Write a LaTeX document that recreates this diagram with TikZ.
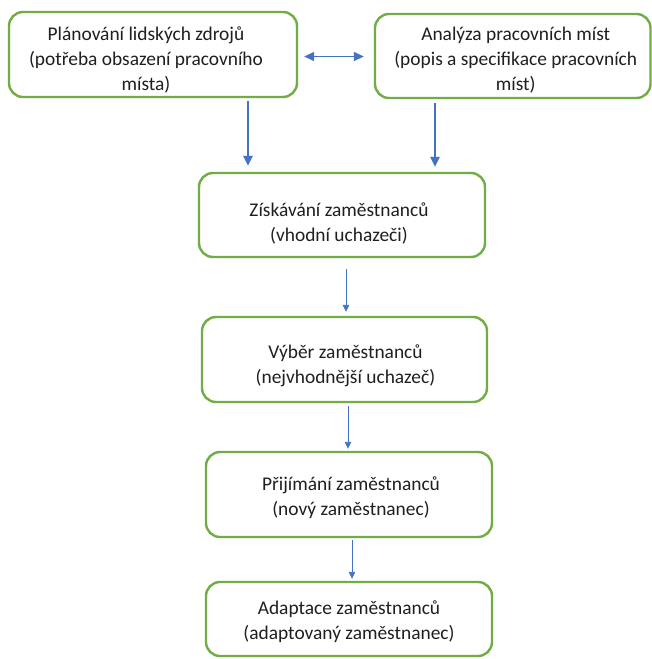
\documentclass[tikz,border=0pt]{standalone}
\usepackage{fontspec}
\setmainfont{Carlito}
\usetikzlibrary{arrows.meta}
\definecolor{boxgreen}{RGB}{112,173,71}
\definecolor{arrblue}{RGB}{68,114,196}
\begin{document}
\begin{tikzpicture}[x=1pt,y=-1pt,
  box/.style={draw=boxgreen, line width=2.4pt, rounded corners=14pt, fill=white, inner sep=0pt},
  txt/.style={align=center, inner sep=0pt, font=\fontsize{19.4}{25}\selectfont, text=black!88},
  bigarr/.style={draw=arrblue, line width=1.3pt, -{Triangle[length=10pt,width=9.5pt]}},
  smallarr/.style={draw=arrblue, line width=0.9pt, -{Triangle[length=7pt,width=6.5pt]}},
  duoarr/.style={draw=arrblue, line width=1.4pt, {Triangle[length=10pt,width=9pt]}-{Triangle[length=10pt,width=9pt]}}]
\path[use as bounding box, fill=white] (0,0) rectangle (652,659);

\node[box, minimum width=288pt, minimum height=85pt] (a) at (153,54.5) {};
\node[box, minimum width=275.5pt, minimum height=84pt] (b) at (512.75,56) {};
\node[box, minimum width=286pt, minimum height=84pt] (c) at (342,215) {};
\node[box, minimum width=285pt, minimum height=85pt] (d) at (344.5,359.5) {};
\node[box, minimum width=286pt, minimum height=85pt] (e) at (349,494.5) {};
\node[box, minimum width=286pt, minimum height=74pt] (f) at (349,619) {};

\node[txt] (ta) at ([xshift=-7pt,yshift=-5pt]a.center)
  {Plánování lidských zdrojů\\(potřeba obsazení pracovního\\místa)};
\node[txt] (tb) at ([xshift=3pt,yshift=-4pt]b.center)
  {Analýza pracovních míst\\(popis a specifikace pracovních\\míst)};
\node[txt] (tc) at ([xshift=-3pt,yshift=-8pt]c.center)
  {Získávání zaměstnanců\\(vhodní uchazeči)};
\node[txt] (td) at ([xshift=1pt,yshift=-6pt]d.center)
  {Výběr zaměstnanců\\(nejvhodnější uchazeč)};
\node[txt] (te) at ([xshift=2pt,yshift=-3.5pt]e.center)
  {Přijímání zaměstnanců\\(nový zaměstnanec)};
\node[txt] (tf) at ([yshift=-3pt]f.center)
  {Adaptace zaměstnanců\\(adaptovaný zaměstnanec)};

\coordinate (xa) at (248,0);
\coordinate (xb) at (435,0);
\coordinate (xc) at (346,0);
\coordinate (xd) at (348,0);
\coordinate (xe) at (352,0);

\draw[duoarr] ([xshift=6pt,yshift=-2pt]a.east) -- ([xshift=-10pt,yshift=-2pt]a.east -| b.west);
\draw[bigarr] ([yshift=-3pt]a.south -| xa) -- ([yshift=6pt]c.north -| xa);
\draw[bigarr] ([yshift=-4pt]b.south -| xb) -- ([yshift=5pt]c.north -| xb);
\draw[smallarr] ([yshift=-11pt]c.south -| xc) -- ([yshift=4pt]d.north -| xc);
\draw[smallarr] ([yshift=-3pt]d.south -| xd) -- ([yshift=2pt]e.north -| xd);
\draw[smallarr] ([yshift=-2pt]e.south -| xe) -- ([yshift=2pt]f.north -| xe);
\end{tikzpicture}
\end{document}
